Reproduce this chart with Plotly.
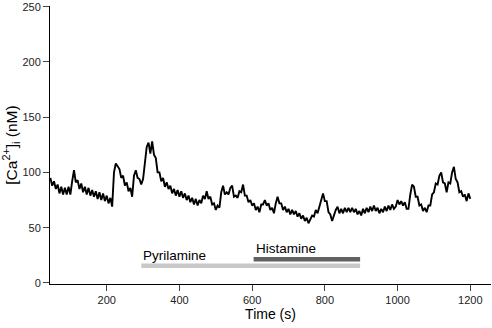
import plotly.graph_objects as go

# Time axis: samples every 5 s from 45 s to 1200 s
t_start = 45
t_step = 5
ca_values = [
    95, 88, 92, 85, 89, 81, 87, 80, 86, 80,
    87, 80, 92, 102, 91, 93, 85, 90, 82, 87,
    80, 86, 79, 84, 78, 83, 76, 82, 75, 81,
    74, 79, 72, 77, 69, 100, 108, 105, 103, 95,
    97, 88, 91, 83, 86, 78, 97, 102, 95, 94,
    89, 94, 112, 123, 127, 117, 128, 116, 113, 100,
    100, 92, 95, 87, 91, 85, 88, 81, 85, 79,
    84, 78, 83, 77, 81, 75, 79, 73, 77, 71,
    76, 70, 75, 72, 79, 76, 83, 76, 78, 71,
    72, 66, 70, 68, 82, 88, 80, 82, 80, 86,
    88, 78, 79, 77, 83, 82, 89, 79, 79, 73,
    75, 70, 72, 66, 69, 64, 71, 71, 75, 70,
    72, 66, 68, 63, 72, 78, 72, 72, 66, 69,
    64, 67, 62, 66, 62, 65, 60, 63, 58, 61,
    56, 59, 54, 57, 61, 60, 66, 63, 70, 77,
    81, 74, 74, 64, 62, 56, 62, 66, 69, 63,
    67, 63, 68, 64, 68, 64, 68, 64, 67, 62,
    65, 61, 67, 63, 68, 64, 69, 65, 70, 65,
    68, 63, 67, 64, 69, 65, 70, 66, 71, 67,
    69, 75, 71, 74, 70, 73, 67, 67, 80, 89,
    87, 78, 78, 70, 71, 65, 68, 64, 70, 70,
    80, 82, 90, 89, 97, 100, 91, 90, 82, 91,
    90, 100, 105, 94, 91, 82, 83, 78, 80, 74,
    81, 76,
]
times = [t_start + t_step * i for i in range(len(ca_values))]

# Drug application bars
bar_labels = ["Pyrilamine", "Histamine"]
bar_start = [295, 604]
bar_end = [897, 897]
bar_level = [15.5, 21.5]
bar_colors = ["#c8c8c8", "#616161"]
label_level = [24.7, 30.8]

x_ticks = [200, 400, 600, 800, 1000, 1200]
y_ticks = [0, 50, 100, 150, 200, 250]

fig = go.Figure()
fig.add_trace(go.Scatter(x=times, y=ca_values, mode="lines",
                         line=dict(color="black", width=1.9),
                         showlegend=False, hoverinfo="skip"))
for lab, s, e, lv, c, ly in zip(bar_labels, bar_start, bar_end, bar_level, bar_colors, label_level):
    fig.add_trace(go.Scatter(x=[s, e], y=[lv, lv], mode="lines",
                             line=dict(color=c, width=4.5),
                             showlegend=False, hoverinfo="skip"))
    fig.add_annotation(x=s, y=ly, text=lab, showarrow=False,
                       xanchor="left", yanchor="middle",
                       font=dict(size=13.5, color="black"))

axis_font = dict(family="Liberation Sans, Arial, sans-serif", size=11, color="#222")
fig.update_layout(
    width=492, height=328,
    margin=dict(l=50, r=1, t=6, b=44, autoexpand=False),
    paper_bgcolor="white", plot_bgcolor="white",
    font=dict(family="Liberation Sans, Arial, sans-serif", color="black"),
    xaxis=dict(range=[44, 1257], tickvals=x_ticks, ticks="outside", ticklen=6,
               showline=True, linecolor="black", linewidth=1, showgrid=False,
               zeroline=False, tickfont=axis_font, automargin=False,
               title=dict(text="Time (s)", font=dict(size=14), standoff=2)),
    yaxis=dict(range=[-1, 250.6], tickvals=y_ticks, ticks="outside", ticklen=6,
               showline=True, linecolor="black", linewidth=1, showgrid=False,
               zeroline=False, tickfont=axis_font, automargin=False,
               title=dict(text="[Ca<sup>2+</sup>]<sub>i</sub> (nM)", font=dict(size=15.5), standoff=3)),
)

fig.write_html("out.html", config={"displayModeBar": False},
               post_script="document.body.style.margin='0';document.body.style.overflow='hidden';")
